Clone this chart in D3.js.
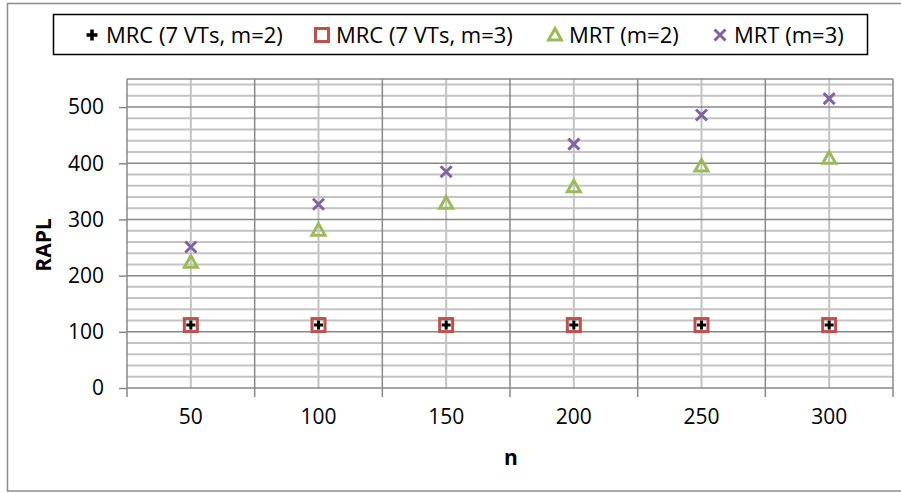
<!DOCTYPE html>
<html>
<head>
<meta charset="utf-8">
<script src="https://cdn.jsdelivr.net/npm/d3@7"></script>
<style>
  body { margin: 0; background: #fff; }
  text { font-family: "Open Sans", Lato, sans-serif; fill: #000; }
</style>
</head>
<body>
<div id="chart"></div>
<script>
// data
var categories = ["50", "100", "150", "200", "250", "300"];
var mrc2 = [112, 112, 112, 112, 112, 112];
var mrc3 = [112, 112, 112, 112, 112, 112];
var mrt2 = [224, 281, 329, 358, 395, 409];
var mrt3 = [251, 327, 385, 434, 486, 515];
var yTicks = [0, 100, 200, 300, 400, 500];
var seriesNames = ["MRC (7 VTs, m=2)", "MRC (7 VTs, m=3)", "MRT (m=2)", "MRT (m=3)"];

var W = 901, H = 493;
var margin = {top: 79, right: 8, bottom: 105, left: 127},
    width = W - margin.left - margin.right,
    height = H - margin.top - margin.bottom;

var font = "'Open Sans', Lato, sans-serif";

var svg = d3.select("#chart").append("svg")
    .attr("width", W)
    .attr("height", H);

// outer chart frame
svg.append("rect")
    .attr("x", 7.5).attr("y", 3.5)
    .attr("width", 905).attr("height", 487.5)
    .attr("fill", "none").attr("stroke", "#8c8c8c").attr("stroke-width", 1.5);

var g = svg.append("g")
    .attr("transform", "translate(" + margin.left + "," + margin.top + ")");

var x = d3.scaleBand().domain(categories).range([0, width]).padding(0);
var y = d3.scaleLinear().domain([0, 550]).range([height, 0]);

// minor horizontal grid every 20
var minor = d3.range(20, 551, 20).filter(function(v) { return v % 100 != 0; });
g.append("g").selectAll("line").data(minor).enter().append("line")
    .attr("x1", 0).attr("x2", width)
    .attr("y1", function(d) { return y(d); }).attr("y2", function(d) { return y(d); })
    .attr("stroke", "#c3c3c3").attr("stroke-width", 2);

// vertical light lines at category centres
g.append("g").selectAll("line").data(categories).enter().append("line")
    .attr("x1", function(d) { return x(d) + x.bandwidth() / 2; })
    .attr("x2", function(d) { return x(d) + x.bandwidth() / 2; })
    .attr("y1", 0).attr("y2", height)
    .attr("stroke", "#c3c3c3").attr("stroke-width", 2);

// major horizontal grid every 100
g.append("g").selectAll("line").data(yTicks.slice(1).concat([550])).enter().append("line")
    .attr("x1", 0).attr("x2", width)
    .attr("y1", function(d) { return y(d); }).attr("y2", function(d) { return y(d); })
    .attr("stroke", "#888").attr("stroke-width", 1.5);

// vertical dark lines at category borders
var borders = categories.map(function(c) { return x(c) + x.bandwidth(); });
g.append("g").selectAll("line").data(borders).enter().append("line")
    .attr("x1", function(d) { return d; }).attr("x2", function(d) { return d; })
    .attr("y1", 0).attr("y2", height + 9)
    .attr("stroke", "#888").attr("stroke-width", 1.5);

// Y axis
var yAxis = g.append("g")
    .call(d3.axisLeft(y).tickValues(yTicks).tickSize(8).tickPadding(15));
yAxis.select(".domain").attr("stroke", "#888").attr("stroke-width", 1.5).attr("d", "M0,0V" + height);
yAxis.selectAll(".tick line").attr("stroke", "#888").attr("stroke-width", 1.5);
yAxis.selectAll("text").style("font-size", "21px").style("font-family", font).attr("fill", "#000");

// X axis
var xAxis = g.append("g")
    .attr("transform", "translate(0," + height + ")")
    .call(d3.axisBottom(x).tickSize(0).tickPadding(21));
xAxis.select(".domain").attr("stroke", "#888").attr("stroke-width", 1.5).attr("d", "M0,0H" + width);
xAxis.selectAll("text").style("font-size", "21px").style("font-family", font).attr("fill", "#000");
g.append("line").attr("x1", 0).attr("x2", 0).attr("y1", height).attr("y2", height + 9)
    .attr("stroke", "#888").attr("stroke-width", 1.5);

// axis titles
svg.append("text")
    .attr("transform", "translate(51,245) rotate(-90)")
    .attr("text-anchor", "middle")
    .style("font-size", "21px").style("font-weight", "bold")
    .text("RAPL");
svg.append("text")
    .attr("x", 511).attr("y", 465)
    .attr("text-anchor", "middle")
    .style("font-size", "21px").style("font-weight", "bold")
    .text("n");

// marker drawers
var red = "#c0504d", green = "#9bbb59", purple = "#8064a2";
function square(sel, cx, cy) {
  sel.append("rect").attr("x", cx - 6.5).attr("y", cy - 6.5).attr("width", 13).attr("height", 13)
     .attr("fill", "none").attr("stroke", red).attr("stroke-width", 3);
}
function plus(sel, cx, cy, s) {
  s = s || 4.5;
  sel.append("path").attr("d", "M" + (cx - s) + "," + cy + "H" + (cx + s) + "M" + cx + "," + (cy - s) + "V" + (cy + s))
     .attr("stroke", "#000").attr("stroke-width", s > 5 ? 3.5 : 3);
}
function tri(sel, cx, cy) {
  sel.append("path").attr("d", "M" + cx + "," + (cy - 6.5) + "L" + (cx + 6.5) + "," + (cy + 5) + "L" + (cx - 6.5) + "," + (cy + 5) + "Z")
     .attr("fill", "none").attr("stroke", green).attr("stroke-width", 3).attr("stroke-linejoin", "miter");
}
function cross(sel, cx, cy) {
  sel.append("path").attr("d", "M" + (cx - 5.5) + "," + (cy - 5.5) + "L" + (cx + 5.5) + "," + (cy + 5.5) + "M" + (cx + 5.5) + "," + (cy - 5.5) + "L" + (cx - 5.5) + "," + (cy + 5.5))
     .attr("stroke", purple).attr("stroke-width", 3);
}

var cx = function(i) { return x(categories[i]) + x.bandwidth() / 2; };
var marks = g.append("g");
mrc3.forEach(function(v, i) { square(marks, cx(i), y(v)); });
mrc2.forEach(function(v, i) { plus(marks, cx(i), y(v)); });
mrt2.forEach(function(v, i) { tri(marks, cx(i), y(v)); });
mrt3.forEach(function(v, i) { cross(marks, cx(i), y(v)); });

// legend
svg.append("rect")
    .attr("x", 53.5).attr("y", 14.5).attr("width", 814).attr("height", 40)
    .attr("fill", "#fff").attr("stroke", "#000").attr("stroke-width", 1.5);
var legendX = [92, 322, 555, 720];
var drawers = [function(s, a, b) { plus(s, a, b, 5.5); }, square, tri, cross];
var leg = svg.append("g");
seriesNames.forEach(function(name, i) {
  drawers[i](leg, legendX[i], 35);
  leg.append("text")
     .attr("x", legendX[i] + 14).attr("y", 42.5)
     .style("font-size", "22px")
     .text(name);
});
</script>
</body>
</html>
